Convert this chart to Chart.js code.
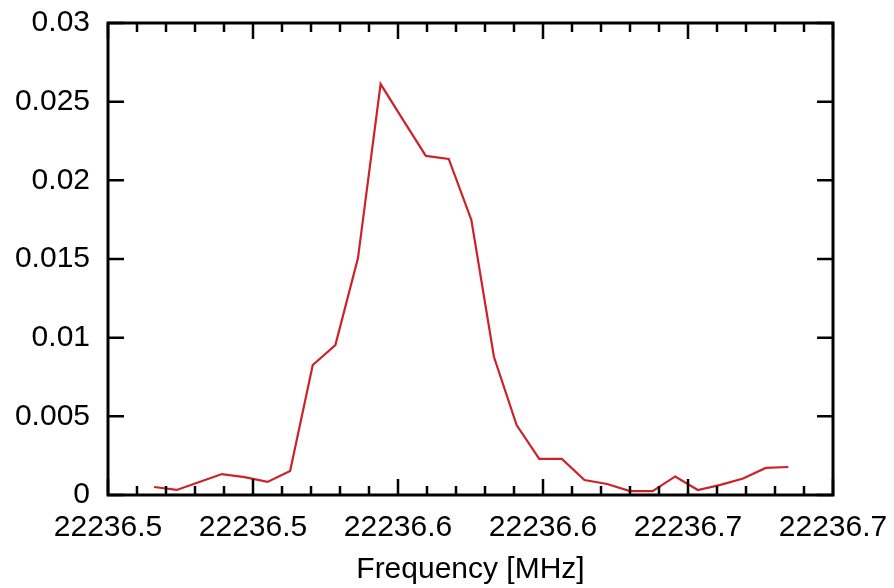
<!DOCTYPE html>
<html>
<head>
<meta charset="utf-8">
<script src="https://cdn.jsdelivr.net/npm/chart.js@4/dist/chart.umd.min.js"></script>
<style>
  html, body { margin: 0; padding: 0; background: #fff; }
  canvas { display: block; }
</style>
</head>
<body>
<canvas id="spectrumChart" width="894" height="588"></canvas>
<script>
// spectrum samples
const freqMHz = [
    22236.4659, 22236.4737, 22236.4815, 22236.4893, 22236.4971, 22236.5050,
    22236.5128, 22236.5206, 22236.5284, 22236.5362, 22236.5440, 22236.5518,
    22236.5596, 22236.5675, 22236.5753, 22236.5831, 22236.5909, 22236.5987,
    22236.6065, 22236.6143, 22236.6221, 22236.6300, 22236.6378, 22236.6456,
    22236.6534, 22236.6612, 22236.6690, 22236.6768, 22236.6846
];
const intensity = [
    0.00051, 0.00032, 0.00083, 0.00133, 0.00114, 0.00083,
    0.00153, 0.00826, 0.00953, 0.01506, 0.02612, 0.02383,
    0.02155, 0.02136, 0.01748, 0.00877, 0.00445, 0.00229,
    0.00229, 0.00095, 0.00070, 0.00025, 0.00025, 0.00118,
    0.00032, 0.00064, 0.00105, 0.00172, 0.00178
];

// axis ticks
const xMajorTicks = [22236.45, 22236.50, 22236.55, 22236.60, 22236.65, 22236.70];
const xTickLabels = ['22236.5', '22236.5', '22236.6', '22236.6', '22236.7', '22236.7'];
const xMinorPerMajor = 5;
const yTickValues = [0, 0.005, 0.01, 0.015, 0.02, 0.025, 0.03];
const yTickLabels = ['0', '0.005', '0.01', '0.015', '0.02', '0.025', '0.03'];

const FONT = { family: '"Liberation Sans", Arial, sans-serif', size: 30 };

function majorIndex(value) {
    return xMajorTicks.findIndex(v => Math.abs(v - value) < 1e-6);
}

// gnuplot style frame with inward ticks on all four sides
const framePlugin = {
    id: 'frame',
    afterDraw(chart) {
        const ctx = chart.ctx;
        const area = chart.chartArea;
        const xs = chart.scales.x;
        const ys = chart.scales.y;
        ctx.save();
        ctx.strokeStyle = '#000';
        ctx.lineWidth = 2.5;
        ctx.beginPath();
        xs.ticks.forEach(t => {
            const px = xs.getPixelForValue(t.value);
            const len = majorIndex(t.value) >= 0 ? 16 : 9;
            ctx.moveTo(px, area.bottom);
            ctx.lineTo(px, area.bottom - len);
            ctx.moveTo(px, area.top);
            ctx.lineTo(px, area.top + len);
        });
        ys.ticks.forEach(t => {
            const py = ys.getPixelForValue(t.value);
            ctx.moveTo(area.left, py);
            ctx.lineTo(area.left + 16, py);
            ctx.moveTo(area.right, py);
            ctx.lineTo(area.right - 16, py);
        });
        ctx.stroke();
        ctx.lineWidth = 3;
        ctx.strokeRect(area.left, area.top, area.right - area.left, area.bottom - area.top);
        ctx.restore();
    }
};

const ctx = document.getElementById('spectrumChart').getContext('2d');
const spectrumChart = new Chart(ctx, {
    type: 'line',
    data: {
        datasets: [{
            data: freqMHz.map((f, i) => ({ x: f, y: intensity[i] })),
            borderColor: '#cc2229',
            borderWidth: 2.2,
            pointRadius: 0,
            tension: 0,
            fill: false
        }]
    },
    options: {
        responsive: false,
        animation: false,
        devicePixelRatio: 1,
        layout: { padding: { top: 23, right: 61, left: 0, bottom: 0 } },
        plugins: { legend: { display: false }, tooltip: { enabled: false } },
        scales: {
            x: {
                type: 'linear',
                min: xMajorTicks[0],
                max: xMajorTicks[xMajorTicks.length - 1],
                grid: { display: false, drawTicks: false },
                border: { display: false },
                afterBuildTicks(scale) {
                    const ticks = [];
                    for (let i = 0; i < xMajorTicks.length; i++) {
                        ticks.push({ value: xMajorTicks[i] });
                        if (i < xMajorTicks.length - 1) {
                            const step = (xMajorTicks[i + 1] - xMajorTicks[i]) / xMinorPerMajor;
                            for (let k = 1; k < xMinorPerMajor; k++) {
                                ticks.push({ value: xMajorTicks[i] + k * step });
                            }
                        }
                    }
                    scale.ticks = ticks;
                },
                afterFit(scale) {
                    scale.height = 93;
                    scale.paddingLeft = 0;
                    scale.paddingRight = 0;
                },
                ticks: {
                    autoSkip: false,
                    maxRotation: 0,
                    padding: 15,
                    color: '#000',
                    font: FONT,
                    callback: (value) => {
                        const j = majorIndex(value);
                        return j >= 0 ? xTickLabels[j] : '';
                    }
                },
                title: {
                    display: true,
                    text: 'Frequency [MHz]',
                    color: '#000',
                    font: FONT,
                    padding: { top: 0, bottom: 0 }
                }
            },
            y: {
                min: 0,
                max: 0.03,
                grid: { display: false, drawTicks: false },
                border: { display: false },
                afterBuildTicks(scale) {
                    scale.ticks = yTickValues.map(v => ({ value: v }));
                },
                afterFit(scale) {
                    scale.width = 108;
                    scale.paddingTop = 0;
                    scale.paddingBottom = 0;
                },
                ticks: {
                    padding: 18,
                    color: '#000',
                    font: FONT,
                    callback: (value, index) => yTickLabels[index]
                }
            }
        }
    },
    plugins: [framePlugin]
});
</script>
</body>
</html>
